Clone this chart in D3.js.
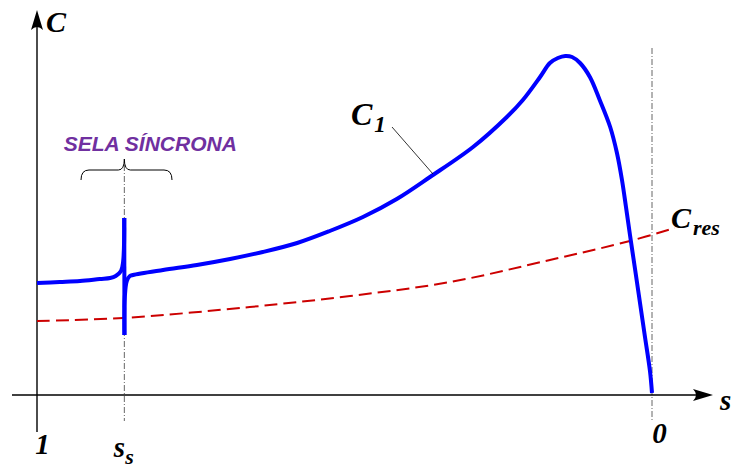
<!DOCTYPE html>
<html><head><meta charset="utf-8">
<script src="https://d3js.org/d3.v7.min.js"></script>
<style>body{margin:0;background:#fff}svg{display:block}</style>
</head><body>
<script>
// Slip values (s) and torque (C)
const slipC1 = [1.000,0.963,0.930,0.898,0.881,0.872,0.8634,0.8600,0.8581,0.8578,0.8572,0.8540,0.8490,0.844,0.795,0.740,0.686,0.633,0.577,0.524,0.470,0.415,0.361,0.291,0.236,0.210,0.182,0.166,0.153,0.141,0.130,0.117,0.101,0.085,0.068,0.057,0.0488,0.0423,0.0358,0.0276,0.0195,0.0114,0.0033,0.000];
const torqueC1 = [1.12,1.13,1.14,1.16,1.17,1.19,1.24,1.33,1.77,0.60,0.98,1.14,1.19,1.20,1.25,1.30,1.36,1.43,1.52,1.64,1.78,1.96,2.18,2.48,2.78,2.95,3.18,3.32,3.37,3.39,3.38,3.32,3.18,2.95,2.68,2.42,2.15,1.88,1.60,1.26,0.92,0.58,0.24,0.02];
const slipRes = [1.000,0.860,0.654,0.491,0.328,0.166,0.036,-0.037];
const torqueRes = [0.74,0.77,0.88,0.99,1.13,1.35,1.54,1.67];
const slipSync = 0.858;
const tickValues = [1, slipSync, 0];

const W = 731, H = 469;
const svg = d3.select("body").append("svg").attr("width", W).attr("height", H);
const x = d3.scaleLinear().domain([1, 0]).range([37, 652]);
const y = d3.scaleLinear().domain([0, 3.4]).range([395, 55]);

const serif = "'Liberation Serif','DejaVu Serif',serif";
const sans = "'Liberation Sans',Arial,sans-serif";

// dash-dot guide lines
[[slipSync, 165], [0, 48]].forEach(([s, y1]) => {
  svg.append("line").attr("x1", x(s)).attr("x2", x(s)).attr("y1", y1).attr("y2", 421)
    .attr("stroke", "#555").attr("stroke-width", 0.9).attr("stroke-dasharray", "6,2,1,2");
});

// axes lines
svg.append("line").attr("x1", 12).attr("x2", 706).attr("y1", y(0)).attr("y2", y(0))
  .attr("stroke", "#000").attr("stroke-width", 1.4);
svg.append("line").attr("x1", x(1)).attr("x2", x(1)).attr("y1", 432).attr("y2", 16)
  .attr("stroke", "#000").attr("stroke-width", 1.4);
// arrowheads
const xa = 713, ya = y(0);
svg.append("path").attr("d", `M${xa},${ya} L${xa-20},${ya-6} Q${xa-14},${ya} ${xa-20},${ya+6} Z`).attr("fill", "#000");
const xb = x(1), yb = 10;
svg.append("path").attr("d", `M${xb},${yb} L${xb-6},${yb+20} Q${xb},${yb+14} ${xb+6},${yb+20} Z`).attr("fill", "#000");

// tick labels via d3 axis
const ax = svg.append("g").attr("transform", `translate(0,${y(0)})`)
  .call(d3.axisBottom(x).tickValues(tickValues).tickSize(0).tickFormat(""));
ax.select(".domain").remove();
ax.selectAll(".tick").each(function(d) {
  const g = d3.select(this);
  const t = g.append("text").attr("fill", "#000").attr("font-family", serif)
    .attr("font-style", "italic").attr("font-weight", "bold").attr("font-size", 29);
  if (d === 1) { t.attr("x", 5).attr("y", 59).attr("text-anchor", "middle").text("1"); }
  else if (d === 0) { t.attr("x", 7).attr("y", 48).attr("text-anchor", "middle").text("0"); }
  else {
    t.attr("x", -11).attr("y", 62).attr("text-anchor", "start");
    t.append("tspan").text("s");
    t.append("tspan").attr("font-size", 22).attr("dy", 7).text("s");
  }
});

// curves
const pts = slipC1.map((s, i) => [s, torqueC1[i]]);
const spikeTop = d3.maxIndex(pts.slice(0, 12), d => d[1]);
const smooth = d3.line().x(d => x(d[0])).y(d => y(d[1])).curve(d3.curveCatmullRom.alpha(0.5));
const straight = d3.line().x(d => x(d[0])).y(d => y(d[1]));
svg.append("path").datum(slipRes.map((s, i) => [s, torqueRes[i]])).attr("d", smooth)
  .attr("fill", "none").attr("stroke", "#cc0000").attr("stroke-width", 2).attr("stroke-dasharray", "13,6");
const blue = svg.append("g").attr("fill", "none").attr("stroke", "#0000ff").attr("stroke-width", 4)
  .attr("stroke-linejoin", "round");
blue.append("path").attr("d", smooth(pts.slice(0, spikeTop + 1)));
blue.append("path").attr("d", straight(pts.slice(spikeTop, spikeTop + 2)));
blue.append("path").attr("d", smooth(pts.slice(spikeTop + 1)));

// labels
function lbl(px, py, main, sub, size, subSize, dy) {
  const t = svg.append("text").attr("x", px).attr("y", py).attr("font-family", serif)
    .attr("font-style", "italic").attr("font-weight", "bold").attr("font-size", size).attr("fill", "#000");
  t.append("tspan").text(main);
  if (sub) t.append("tspan").attr("font-size", subSize).attr("dy", dy).attr("dx", 2).text(sub);
}
lbl(46, 32, "C", null, 30);
lbl(720, 410, "s", null, 29);
lbl(351, 125, "C", "1", 32, 23, 7);
lbl(671, 228, "C", "res", 30, 22, 7);

// C1 leader
svg.append("line").attr("x1", 392).attr("y1", 127).attr("x2", 433).attr("y2", 174)
  .attr("stroke", "#000").attr("stroke-width", 0.8);

// SELA SÍNCRONA
svg.append("text").attr("x", x(slipSync) + 26).attr("y", 151).attr("text-anchor", "middle")
  .attr("font-family", sans).attr("font-style", "italic").attr("font-weight", "bold")
  .attr("font-size", 21).attr("fill", "#7030a0").text("SELA SÍNCRONA");

// brace
const bc = x(slipSync), bl = 81, br = 172, by = 170, bt = 159, be = 180;
svg.append("path").attr("d",
  `M${bl},${be} Q${bl},${by} ${bl+8},${by} L${bc-6},${by} Q${bc},${by} ${bc},${bt} Q${bc},${by} ${bc+6},${by} L${br-8},${by} Q${br},${by} ${br},${be}`)
  .attr("fill", "none").attr("stroke", "#000").attr("stroke-width", 1);
</script>
</body></html>
